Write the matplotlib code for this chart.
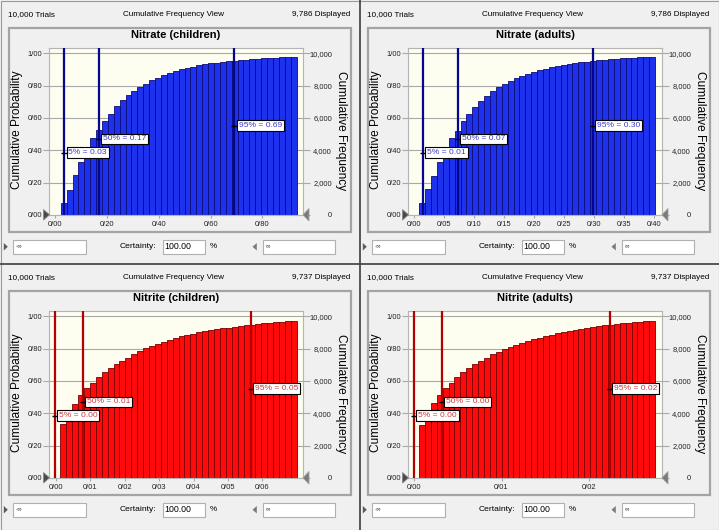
import matplotlib
matplotlib.use('Agg')
import matplotlib.pyplot as plt
from matplotlib.patches import Rectangle, Polygon
from matplotlib.ticker import FixedLocator, FuncFormatter

plt.rcParams['font.family'] = ['Liberation Sans', 'DejaVu Sans']

W, H = 719, 530

titles = ['Nitrate (children)', 'Nitrate (adults)', 'Nitrite (children)', 'Nitrite (adults)']
trials = 10000
displayed = [9786, 9786, 9737, 9737]

# cumulative probability of each bin
nitrate_children = [0.070, 0.156, 0.247, 0.326, 0.398, 0.475, 0.527, 0.579, 0.627, 0.672,
                    0.710, 0.740, 0.768, 0.793, 0.813, 0.832, 0.849, 0.865, 0.878, 0.890,
                    0.900, 0.910, 0.918, 0.925, 0.932, 0.938, 0.943, 0.947, 0.950, 0.954,
                    0.958, 0.961, 0.964, 0.967, 0.970, 0.972, 0.974, 0.976, 0.978, 0.9786]
nitrate_adults = [0.074, 0.157, 0.240, 0.326, 0.398, 0.474, 0.522, 0.584, 0.626, 0.670,
                  0.707, 0.738, 0.765, 0.790, 0.810, 0.828, 0.845, 0.861, 0.875, 0.887,
                  0.897, 0.906, 0.915, 0.922, 0.929, 0.935, 0.940, 0.945, 0.949, 0.953,
                  0.957, 0.960, 0.964, 0.967, 0.969, 0.972, 0.974, 0.976, 0.978, 0.9786]
nitrite_children = [0.332, 0.390, 0.459, 0.510, 0.557, 0.590, 0.622, 0.653, 0.680, 0.704,
                    0.724, 0.745, 0.765, 0.786, 0.802, 0.816, 0.830, 0.843, 0.853, 0.867,
                    0.876, 0.885, 0.893, 0.900, 0.907, 0.913, 0.919, 0.925, 0.930, 0.935,
                    0.940, 0.945, 0.949, 0.953, 0.957, 0.961, 0.964, 0.967, 0.970, 0.9737]
nitrite_adults = [0.330, 0.395, 0.463, 0.510, 0.555, 0.588, 0.624, 0.653, 0.680, 0.704,
                  0.724, 0.745, 0.765, 0.780, 0.796, 0.810, 0.822, 0.837, 0.847, 0.857,
                  0.868, 0.878, 0.887, 0.895, 0.903, 0.910, 0.917, 0.923, 0.929, 0.934,
                  0.939, 0.944, 0.948, 0.952, 0.956, 0.960, 0.963, 0.967, 0.970, 0.9737]
cum_prob = [nitrate_children, nitrate_adults, nitrite_children, nitrite_adults]

bin_start = [0.022, 0.008, 0.00125, 0.00054]
bin_width = [0.02273, 0.00982, 0.00172, 0.000677]

pct_values = [[0.036, 0.169, 0.692],
              [0.0147, 0.072, 0.298],
              [-0.0003, 0.00777, 0.0567],
              [-0.00003, 0.00314, 0.02244]]
pct_labels = [['5% = 0.03', '50% = 0.17', '95% = 0.69'],
              ['5% = 0.01', '50% = 0.07', '95% = 0.30'],
              ['5% = 0.00', '50% = 0.01', '95% = 0.05'],
              ['5% = 0.00', '50% = 0.00', '95% = 0.02']]

x_ticks = [[0.0, 0.2, 0.4, 0.6, 0.8],
           [0.0, 0.05, 0.10, 0.15, 0.20, 0.25, 0.30, 0.35, 0.40],
           [0.0, 0.01, 0.02, 0.03, 0.04, 0.05, 0.06],
           [0.0, 0.01, 0.02]]
x_limits = [(-0.022, 0.955), (-0.0103, 0.412), (-0.00195, 0.07176), (-0.00069, 0.02837)]
prob_ticks = [0.0, 0.2, 0.4, 0.6, 0.8, 1.0]
freq_ticks = [0, 2000, 4000, 6000, 8000, 10000]

schemes = {
    'blue': dict(bar='#1e32ee', edge='#0c0c78', line='#06068c', text='#3c3cc8'),
    'red': dict(bar='#ff0a0a', edge='#7a0000', line='#b40000', text='#c83c3c'),
}
panel_scheme = ['blue', 'blue', 'red', 'red']
offsets = [(0, 0), (359, 0), (0, 263), (359, 263)]

fig = plt.figure(figsize=(W / 100, H / 100), dpi=100, facecolor='#f0f0f0')


def fax(x0, y0, x1, y1):
    return [x0 / W, 1 - y1 / H, (x1 - x0) / W, (y1 - y0) / H]


def slash(v, pos=None):
    return f'{v:.2f}'.replace('.', '/')


axes_list = []
for k in range(4):
    ox, oy = offsets[k]
    c = schemes[panel_scheme[k]]
    ax = fig.add_axes(fax(ox + 49.3, oy + 47.7, ox + 302.7, oy + 214.8))
    ax.set_facecolor('#fdfdf0')
    ax.set_axisbelow(True)
    n = len(cum_prob[k])
    lefts = [bin_start[k] + i * bin_width[k] for i in range(n)]
    ax.bar(lefts, cum_prob[k], width=bin_width[k], align='edge',
           color=c['bar'], edgecolor=c['edge'], linewidth=0.6, zorder=2)
    ax.set_xlim(*x_limits[k])
    ax.set_ylim(0, 1.035)
    ax.yaxis.set_major_locator(FixedLocator(prob_ticks))
    ax.yaxis.set_major_formatter(FuncFormatter(slash))
    ax.xaxis.set_major_locator(FixedLocator(x_ticks[k]))
    ax.xaxis.set_major_formatter(FuncFormatter(slash))
    ax.grid(axis='y', color='#a8a8a8', linewidth=0.8)
    ax.tick_params(axis='y', length=4.5, width=0.8, color='#a8a8a8', pad=0.8,
                   labelsize=5.4, labelcolor='#222222')
    ax.tick_params(axis='x', length=2.2, width=0.8, color='#a8a8a8', pad=2.5,
                   labelsize=5.4, labelcolor='#222222')
    for s in ax.spines.values():
        s.set_color('#b4b4b4')
        s.set_linewidth(0.8)
    for xv, lab, yl in zip(pct_values[k], pct_labels[k], [0.385, 0.47, 0.553]):
        ax.axvline(xv, color=c['line'], linewidth=1.6, zorder=3)
        ax.plot([xv], [yl], marker='_', markersize=4, color='black', zorder=4)
        ax.annotate(lab, xy=(xv, yl), xytext=(2.9, 0), textcoords='offset points',
                    ha='left', va='center', fontsize=6.1, color=c['text'], zorder=5,
                    bbox=dict(boxstyle='square,pad=0.22', fc='white', ec='black', lw=0.8))

    tw = ax.twinx()
    tw.set_ylim(0, 1.035 * trials)
    tw.yaxis.set_major_locator(FixedLocator(freq_ticks))
    tw.yaxis.set_major_formatter(FuncFormatter(lambda v, p: f'{int(v):,}'))
    tw.tick_params(axis='y', length=4.8, width=0.8, color='#a8a8a8', pad=16.3,
                   labelsize=5.4, labelcolor='#222222')
    for t in tw.yaxis.get_major_ticks(len(freq_ticks)):
        t.label2.set_horizontalalignment('right')
    for s in tw.spines.values():
        s.set_visible(False)
    axes_list.append(ax)

# everything around the plots, drawn in pixel coordinates
cv = fig.add_axes([0, 0, 1, 1])
cv.set_xlim(0, W)
cv.set_ylim(H, 0)
cv.axis('off')
cv.patch.set_alpha(0)

for k in range(4):
    ox, oy = offsets[k]
    cv.add_patch(Rectangle((ox + 9, oy + 27.7), 341.7, 204, fill=False,
                           ec='#a4a4a4', lw=1.6))
    cv.text(ox + 8.3, oy + 14.5, f'{trials:,} Trials', fontsize=5.9, va='center', ha='left')
    cv.text(ox + 173.3, oy + 14.5, 'Cumulative Frequency View', fontsize=5.9,
            va='center', ha='center')
    cv.text(ox + 350, oy + 14.5, f'{displayed[k]:,} Displayed', fontsize=5.9,
            va='center', ha='right')
    cv.text(ox + 176, oy + 35, titles[k], fontsize=8, fontweight='bold',
            ha='center', va='center')
    cv.text(ox + 17.3, oy + 130, 'Cumulative Probability', fontsize=8.6,
            rotation=90, ha='center', va='center')
    cv.text(ox + 340.7, oy + 131, 'Cumulative Frequency', fontsize=8.6,
            rotation=270, ha='center', va='center')
    # slider handles on the plot corners
    cv.add_patch(Polygon([(ox + 43.5, oy + 209.5), (ox + 49.5, oy + 214.8),
                          (ox + 43.5, oy + 220)], closed=True, fc='#4a4a4a', ec='#8a8a8a', lw=0.6))
    cv.add_patch(Polygon([(ox + 309, oy + 208.5), (ox + 303, oy + 214.8),
                          (ox + 309, oy + 221)], closed=True, fc='#7a7a7a', ec='#a0a0a0', lw=0.6))
    # bottom controls
    by0, by1 = oy + 239.5, oy + 254
    cv.add_patch(Polygon([(ox + 3.8, by0 + 3.5), (ox + 7.8, (by0 + by1) / 2),
                          (ox + 3.8, by1 - 3.5)], closed=True, fc='#5a5a5a', ec='none'))
    cv.add_patch(Rectangle((ox + 13.3, by0), 72.7, by1 - by0, fc='white', ec='#b0b0b0', lw=0.8))
    cv.text(ox + 15.5, (by0 + by1) / 2, '-\u221e', fontsize=4.5, va='center', ha='left',
            color='#444444')
    cv.text(ox + 156, (by0 + by1) / 2, 'Certainty:', fontsize=6.1, va='center', ha='right')
    cv.add_patch(Rectangle((ox + 162.7, by0), 42.3, by1 - by0, fc='white', ec='#b0b0b0', lw=0.8))
    cv.text(ox + 164.5, (by0 + by1) / 2, '100.00', fontsize=6.3, va='center', ha='left')
    cv.text(ox + 210, (by0 + by1) / 2, '%', fontsize=5.9, va='center', ha='left')
    cv.add_patch(Polygon([(ox + 256.8, by0 + 3.5), (ox + 252.5, (by0 + by1) / 2),
                          (ox + 256.8, by1 - 3.5)], closed=True, fc='#7a7a7a', ec='none'))
    cv.add_patch(Rectangle((ox + 263.3, by0), 71.7, by1 - by0, fc='white', ec='#b0b0b0', lw=0.8))
    cv.text(ox + 265.5, (by0 + by1) / 2, '\u221e', fontsize=4.5, va='center', ha='left',
            color='#444444')

# panel separators and outer border
cv.plot([359.5, 359.5], [0, H], color='#4a4a4a', lw=1.3)
cv.plot([0, W], [263.5, 263.5], color='#4a4a4a', lw=1.3)
cv.add_patch(Rectangle((0.5, 0.5), W - 1, H - 1, fill=False, ec='#9a9a9a', lw=0.8))

fig.savefig('out.png', dpi=100, facecolor=fig.get_facecolor())
